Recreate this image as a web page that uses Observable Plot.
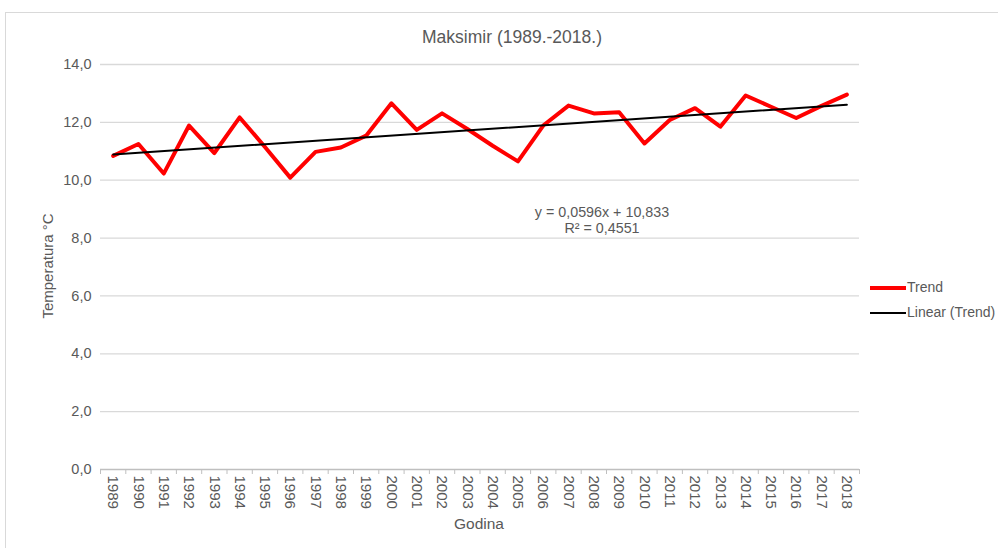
<!DOCTYPE html>
<html>
<head>
<meta charset="utf-8">
<script src="https://cdn.jsdelivr.net/npm/d3@7"></script>
<script src="https://cdn.jsdelivr.net/npm/@observablehq/plot@0.6"></script>
<style>
  body { margin: 0; background: #fff; font-family: "Liberation Sans", Arial, sans-serif; }
  #wrap { position: relative; width: 998px; height: 548px; overflow: hidden; background: #fff; }
  #frame { position: absolute; left: 5px; top: 12px; width: 1100px; height: 700px; border: 1px solid #d9d9d9; box-sizing: border-box; }
  #chart { position: absolute; left: 0; top: 0; }
  .txt { position: absolute; color: #595959; white-space: nowrap; }
  #title { left: 0; width: 1024px; top: 27px; text-align: center; font-size: 17.5px; }
  #ylab { left: 47px; top: 266px; font-size: 15px; transform: translate(-50%, -50%) rotate(-90deg); }
  #xlab { left: 479px; top: 524px; font-size: 15.5px; transform: translate(-50%, -50%); }
  #eq { left: 602px; top: 204px; transform: translateX(-50%); text-align: center; font-size: 14.3px; line-height: 16px; }
  .leg { position: absolute; left: 870px; width: 36px; }
  .legt { left: 907px; font-size: 14px; }
</style>
</head>
<body>
<div id="wrap">
  <div id="frame"></div>
  <div id="chart"></div>
  <div class="txt" id="title"></div>
  <div class="txt" id="ylab"></div>
  <div class="txt" id="xlab"></div>
  <div class="txt" id="eq"></div>
  <div class="leg" style="top:286px;height:4px;background:#ff0000;"></div>
  <div class="txt legt" style="top:279px;" id="leg1"></div>
  <div class="leg" style="top:311.5px;height:2px;background:#000;"></div>
  <div class="txt legt" style="top:304px;" id="leg2"></div>
</div>
<script>
const titleText = "Maksimir (1989.-2018.)";
const yLabel = "Temperatura °C";
const xLabel = "Godina";
const eqLine1 = "y = 0,0596x + 10,833";
const eqLine2 = "R² = 0,4551";
const seriesName = "Trend";
const trendName = "Linear (Trend)";

const years = [1989,1990,1991,1992,1993,1994,1995,1996,1997,1998,1999,2000,2001,2002,2003,2004,2005,2006,2007,2008,2009,2010,2011,2012,2013,2014,2015,2016,2017,2018];
const temps = [10.84,11.25,10.23,11.89,10.94,12.17,11.15,10.09,10.98,11.13,11.54,12.66,11.74,12.31,11.77,11.19,10.65,11.89,12.58,12.31,12.35,11.27,12.08,12.49,11.85,12.93,12.54,12.15,12.57,12.96];
const yTicks = [0,2,4,6,8,10,12,14];

const data = years.map((y, i) => ({year: y, temp: temps[i]}));
const boundaries = d3.range(years[0] - 0.5, years[years.length - 1] + 1, 1);

document.getElementById("title").textContent = titleText;
document.getElementById("ylab").textContent = yLabel;
document.getElementById("xlab").textContent = xLabel;
document.getElementById("eq").innerHTML = eqLine1 + "<br>" + eqLine2;
document.getElementById("leg1").textContent = seriesName;
document.getElementById("leg2").textContent = trendName;

const fmt = d => d.toFixed(1).replace(".", ",");

const chart = Plot.plot({
  width: 998,
  height: 548,
  marginLeft: 100,
  marginRight: 139,
  marginTop: 64,
  marginBottom: 79,
  style: {fontFamily: "Liberation Sans, Arial, sans-serif", fontSize: "14px", color: "#595959", background: "transparent"},
  x: {type: "linear", domain: [years[0] - 0.5, years[years.length - 1] + 0.5]},
  y: {domain: [0, 14]},
  marks: [
    Plot.gridY(yTicks.filter(d => d > 0), {stroke: "#d9d9d9", strokeOpacity: 1, strokeWidth: 1.3}),
    Plot.ruleY([0], {stroke: "#bfbfbf", strokeWidth: 1.3}),
    Plot.axisY(yTicks, {tickSize: 0, tickPadding: 9, tickFormat: fmt, label: null, fontSize: 14.5, fill: "#595959"}),
    Plot.axisX(boundaries, {tickSize: 5, tickFormat: () => "", label: null, stroke: "#bfbfbf"}),
    Plot.axisX(years, {tickSize: 0, tickPadding: 6, tickRotate: 90, tickFormat: d => String(d), label: null, fontSize: 15, fill: "#595959"}),
    Plot.line(data, {x: "year", y: "temp", stroke: "#ff0000", strokeWidth: 4, strokeLinejoin: "round"}),
    Plot.linearRegressionY(data, {x: "year", y: "temp", stroke: "#000000", strokeWidth: 2, ci: 0})
  ]
});
document.getElementById("chart").appendChild(chart);
</script>
</body>
</html>
